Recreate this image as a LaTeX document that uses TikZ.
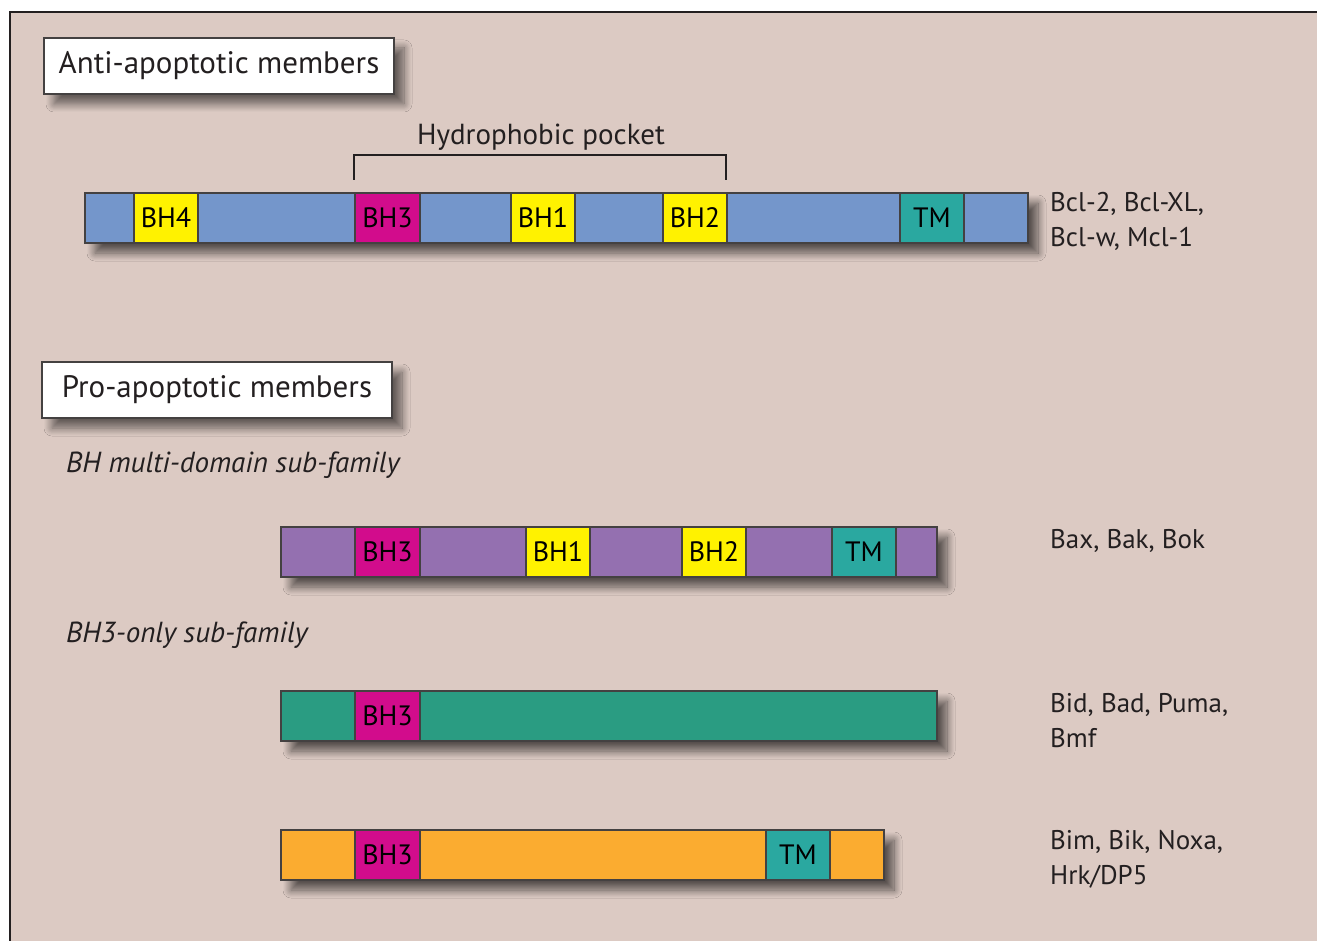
\documentclass[tikz,border=0pt]{standalone}
\usepackage{fontspec}
\setmainfont{PT Sans}
\usetikzlibrary{shadows.blur}
\definecolor{bg}{HTML}{DCCAC3}
\definecolor{ink}{HTML}{231F20}
\definecolor{cblue}{HTML}{7496CB}
\definecolor{cyellow}{HTML}{FFF200}
\definecolor{cmag}{HTML}{D20C8C}
\definecolor{cteal}{HTML}{2AA8A0}
\definecolor{cpurple}{HTML}{9470B0}
\definecolor{cgreen}{HTML}{2A9C82}
\definecolor{corange}{HTML}{FBAC30}
\newcommand\mkseg[6]{\node[segbox, fill=#5, minimum width={#3-#2}] (#1) at ({(#2+#3)/2},#4) {#6};}
\begin{document}
\begin{tikzpicture}[x=1pt,y=-1pt,
  segbox/.style={draw=ink!85, line width=1.4pt, inner sep=0pt, outer sep=0pt, minimum height=50pt, text=black, font=\fontsize{28}{30}\selectfont},
  barbox/.style={segbox, blur shadow={shadow xshift=10pt, shadow yshift=-10pt, shadow blur radius=8pt, shadow blur steps=12, shadow opacity=60}},
  titlebox/.style={draw=ink!85, line width=1.4pt, fill=white, inner sep=0pt, minimum height=56pt, text=ink, font=\fontsize{31}{36}\selectfont, blur shadow={shadow xshift=10pt, shadow yshift=-10pt, shadow blur radius=8pt, shadow blur steps=12, shadow opacity=55}},
  lbl/.style={anchor=west, align=left, text=ink, inner sep=0pt, font=\fontsize{27}{35}\selectfont},
  sub/.style={anchor=west, text=ink, inner sep=0pt, font=\fontsize{29}{32}\selectfont\itshape},
  bracket/.style={draw=ink, line width=2.6pt}]
\useasboundingbox (0,0) rectangle (1317,941);
\fill[bg] (10,12) rectangle (1317,941);
\draw[line width=2.2pt, ink] (10,941) -- (10,12) -- (1317,12);

% titles
\node[titlebox, minimum width=350pt] (anti) at (219,66) {Anti-apoptotic members};
\node[titlebox, minimum width=350pt] (pro) at (217,390) {Pro-apoptotic members};
\node[sub] (multi) at (66,465) {BH multi-domain sub-family};
\node[sub] (only) at (66,635) {BH3-only sub-family};

% bar 1
\node[barbox, fill=cblue, minimum width=943pt] (bar1) at (556.5,218) {};
\mkseg{bh4}{134}{198}{218}{cyellow}{BH4}
\mkseg{bh3a}{355}{420}{218}{cmag}{BH3}
\mkseg{bh1a}{511}{575}{218}{cyellow}{BH1}
\mkseg{bh2a}{663}{727}{218}{cyellow}{BH2}
\mkseg{tma}{900}{964}{218}{cteal}{TM}
\coordinate (brl) at (354,180);
\coordinate (brr) at (726,180);
\draw[bracket] (brl) -- (354,155) -- (726,155) -- (brr);
\node[text=ink, inner sep=0pt, font=\fontsize{29}{32}\selectfont] (hp) at (541,137) {Hydrophobic pocket};
\node[lbl] (l1) at (1050,221) {Bcl-2, Bcl-XL,\\Bcl-w, Mcl-1};

% bar 2
\node[barbox, fill=cpurple, minimum width=656pt] (bar2) at (609,552) {};
\mkseg{bh3b}{355}{420}{552}{cmag}{BH3}
\mkseg{bh1b}{526}{590}{552}{cyellow}{BH1}
\mkseg{bh2b}{682}{746}{552}{cyellow}{BH2}
\mkseg{tmb}{832}{896}{552}{cteal}{TM}
\node[lbl] (l2) at (1050,541) {Bax, Bak, Bok};

% bar 3
\node[barbox, fill=cgreen, minimum width=656pt] (bar3) at (609,716) {};
\mkseg{bh3c}{355}{420}{716}{cmag}{BH3}
\node[lbl] (l3) at (1050,721) {Bid, Bad, Puma,\\Bmf};

% bar 4
\node[barbox, fill=corange, minimum width=603pt] (bar4) at (582.5,855) {};
\mkseg{bh3d}{355}{420}{855}{cmag}{BH3}
\mkseg{tmd}{766}{830}{855}{cteal}{TM}
\node[lbl] (l4) at (1050,859) {Bim, Bik, Noxa,\\Hrk/DP5};
\end{tikzpicture}
\end{document}
